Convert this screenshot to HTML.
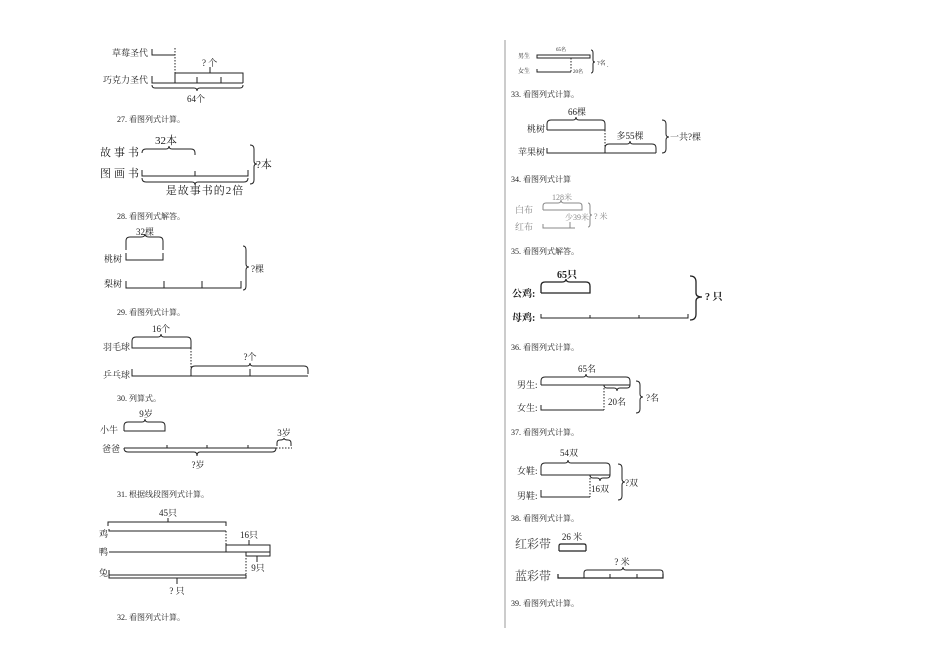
<!DOCTYPE html>
<html><head><meta charset="utf-8"><style>
html,body{margin:0;padding:0;background:#fff;width:950px;height:672px;overflow:hidden}
svg{display:block}
text{font-family:"Liberation Serif","Noto Serif CJK SC","Noto Sans CJK SC",serif;fill:#222}
.s{font-size:8px}
.m{font-size:9px}
.l{font-size:11px}
.g text{fill:#888}
path,line{stroke:#222;fill:none;stroke-width:1}
.d{stroke-dasharray:1.5,1.5}
.g path,.g line{stroke:#888}
</style></head><body>
<svg width="950" height="672" viewBox="0 0 950 672" xmlns="http://www.w3.org/2000/svg">
<line x1="505" y1="40" x2="505" y2="628" style="stroke:#999"/>

<!-- top left -->
<text x="112" y="56" class="m">草莓圣代</text>
<path d="M152 49 V55 H175"/>
<line x1="175" y1="48" x2="175" y2="83" class="d"/>
<text x="202" y="66" class="m">? 个</text>
<line x1="210" y1="67" x2="210" y2="73"/>
<path d="M175 83 V73 H243 V83"/>
<line x1="197" y1="77" x2="197" y2="83"/><line x1="221" y1="77" x2="221" y2="83"/>
<text x="103" y="83" class="m">巧克力圣代</text>
<path d="M152 76 V83 H243"/>
<path d="M152 85 q0 3 3 3 H194 q3 0 3 3 q0 -3 3 -3 H240 q3 0 3 -3"/>
<text x="187" y="102" class="m">64个</text>

<text x="117" y="122" class="s">27. 看图列式计算。</text>
<text x="166" y="144" class="l" text-anchor="middle">32本</text>
<path d="M142 153 q0 -4 4 -4 H166 q3 0 3 -3 q0 3 3 3 H191 q4 0 4 4 V155"/>
<text x="100" y="156" class="l" letter-spacing="3">故事书</text>
<text x="100" y="177" class="l" letter-spacing="3">图画书</text>
<path d="M142 170 V176 H248 V170"/><line x1="195" y1="171" x2="195" y2="176"/>
<path d="M142 178 q0 4 4 4 H192 q3 0 3 3 q0 -3 3 -3 H244 q4 0 4 -4"/>
<text x="205" y="194" class="l" text-anchor="middle" letter-spacing="1">是故事书的2倍</text>
<path d="M250 145 q4 0 4 4 V161 q0 3 3 3 q-3 0 -3 3 V180 q0 4 -4 4"/>
<text x="256" y="168" class="l">?本</text>

<text x="117" y="219" class="s">28. 看图列式解答。</text>
<text x="145" y="235" class="m" text-anchor="middle">32棵</text>
<path d="M126 250 V241 q0 -4 4 -4 H141 q4 0 4 -3 q0 3 4 3 H159 q4 0 4 4 V250"/>
<text x="104" y="262" class="m">桃树</text>
<path d="M126 253 V260 H163 V253"/>
<text x="104" y="287" class="m">梨树</text>
<path d="M126 281 V288 H241 V281"/><line x1="164" y1="281" x2="164" y2="288"/><line x1="202" y1="281" x2="202" y2="288"/>
<path d="M243 246 q3 0 3 4 V264 q0 3 3 3 q-3 0 -3 3 V286 q0 4 -3 4"/>
<text x="251" y="272" class="m">?棵</text>

<text x="117" y="315" class="s">29. 看图列式计算。</text>
<text x="161" y="332" class="m" text-anchor="middle">16个</text>
<path d="M132 347 V341 q0 -4 4 -4 H158 q3 0 3 -3 q0 3 3 3 H187 q4 0 4 4 V348"/>
<text x="103" y="350" class="m">羽毛球</text>
<path d="M132 345 V348 H191"/>
<line x1="191" y1="348" x2="191" y2="376" class="d"/>
<text x="250" y="360" class="m" text-anchor="middle">?个</text>
<path d="M191 376 V370 q0 -4 4 -4 H247 q3 0 3 -3 q0 3 3 3 H304 q4 0 4 4 V374"/>
<text x="103" y="378" class="m">乒乓球</text>
<path d="M132 369 V376 H308"/><line x1="250" y1="369" x2="250" y2="376"/>

<text x="117" y="401" class="s">30. 列算式。</text>
<text x="146" y="417" class="m" text-anchor="middle">9岁</text>
<path d="M124 431 V426 q0 -4 4 -4 H142 q3 0 3 -3 q0 3 3 3 H161 q4 0 4 4 V431 H124"/>
<text x="100" y="433" class="m">小牛</text>
<text x="102" y="452" class="m">爸爸</text>
<line x1="124" y1="448" x2="276" y2="448"/>
<line x1="167" y1="445" x2="167" y2="448"/><line x1="207" y1="445" x2="207" y2="448"/><line x1="248" y1="445" x2="248" y2="448"/>
<line x1="276" y1="448" x2="292" y2="448" class="d"/>
<text x="284" y="436" class="m" text-anchor="middle">3岁</text>
<path d="M277 446 V443 q0 -3 3 -3 q4 0 4 -2 q0 2 4 2 q3 0 3 3 V446"/>
<path d="M124 448 q0 4 4 4 H194 q3 0 3 4 q0 -4 3 -4 H272 q4 0 4 -4"/>
<text x="198" y="468" class="m" text-anchor="middle">?岁</text>

<text x="117" y="497" class="s">31. 根据线段图列式计算。</text>
<text x="168" y="516" class="m" text-anchor="middle">45只</text>
<path d="M108 526 V522 H226 V526"/><line x1="168" y1="522" x2="168" y2="518"/>
<text x="99" y="537" class="m">鸡</text>
<path d="M109 529 V531 H226"/>
<line x1="226" y1="531" x2="226" y2="552" class="d"/>
<text x="249" y="538" class="m" text-anchor="middle">16只</text>
<line x1="249" y1="540" x2="249" y2="545"/>
<path d="M226 552 V545 H270 V552"/>
<text x="99" y="555" class="m">鸭</text>
<line x1="109" y1="552" x2="270" y2="552"/>
<path d="M246 552 V556 H270 V552"/><line x1="257" y1="556" x2="257" y2="562"/>
<text x="258" y="571" class="m" text-anchor="middle">9只</text>
<line x1="246" y1="552" x2="246" y2="575" class="d"/>
<text x="99" y="576" class="m">兔</text>
<path d="M109 570 V575 H246"/>
<path d="M109 575 V578 H246 V575"/><line x1="177" y1="578" x2="177" y2="584"/>
<text x="177" y="594" class="m" text-anchor="middle">? 只</text>

<text x="117" y="620" class="s">32. 看图列式计算。</text>

<!-- right column -->
<text x="518" y="58" style="font-size:6px">男生</text>
<text x="561" y="51" style="font-size:5px" text-anchor="middle">65名</text>
<path d="M537 55 H590 V58 H537 Z"/>
<line x1="571" y1="58" x2="571" y2="72" class="d"/>
<text x="518" y="73" style="font-size:6px">女生</text>
<path d="M537 69 V72 H571"/>
<text x="573" y="73" style="font-size:5px">20名</text>
<path d="M591 50 q2 0 2 3 V60 q0 2 2 2 q-2 0 -2 2 V70 q0 3 -2 3"/>
<text x="597" y="65" style="font-size:6px">?名</text>
<text x="607" y="67" style="font-size:6px">.</text>

<text x="511" y="97" class="s">33. 看图列式计算。</text>
<text x="577" y="115" class="m" text-anchor="middle">66棵</text>
<path d="M547 130 V124 q0 -4 4 -4 H573 q3 0 3 -3 q0 3 3 3 H601 q4 0 4 4 V130 H547"/>
<text x="527" y="132" class="m">桃树</text>
<line x1="605" y1="130" x2="605" y2="153" class="d"/>
<text x="630" y="139" class="m" text-anchor="middle">多55棵</text>
<path d="M605 153 V148 q0 -4 4 -4 H627 q3 0 3 -3 q0 3 3 3 H652 q4 0 4 4 V153"/>
<text x="518" y="155" class="m">苹果树</text>
<path d="M547 148 V153 H656"/>
<path d="M662 120 q4 0 4 4 V134 q0 3 3 3 q-3 0 -3 3 V149 q0 4 -4 4"/>
<text x="670" y="140" class="m">一共?棵</text>

<text x="511" y="182" class="s">34. 看图列式计算</text>
<g class="g">
<text x="562" y="200" class="s" text-anchor="middle">128米</text>
<path d="M543 210 V206 q0 -3 3 -3 H558 q3 0 3 -3 q0 3 3 3 H579 q3 0 3 3 V210 H543"/>
<text x="515" y="213" class="m">白布</text>
<text x="565" y="220" class="s">少39米</text>
<path d="M570 222 V228"/>
<text x="515" y="230" class="m">红布</text>
<path d="M543 224 V228 H575"/>
<path d="M588 203 q2 0 2 3 V213 q0 2 2 2 q-2 0 -2 2 V224 q0 3 -2 3"/>
<text x="594" y="219" class="s">? 米</text>
</g>

<text x="511" y="254" class="s">35. 看图列式解答。</text>
<text x="567" y="278" style="font-size:10px;font-weight:bold" text-anchor="middle">65只</text>
<path d="M541 293 V286 q0 -4 4 -4 H562 q4 0 4 -3 q0 3 4 3 H586 q4 0 4 4 V293 H541" style="stroke-width:1.3"/>
<text x="512" y="297" style="font-size:10px;font-weight:bold">公鸡:</text>
<text x="512" y="321" style="font-size:10px;font-weight:bold">母鸡:</text>
<path d="M541 314 V318 H688 V314"/><line x1="590" y1="315" x2="590" y2="318"/><line x1="639" y1="315" x2="639" y2="318"/>
<path d="M690 276 q6 0 6 6 V293 q0 4 6 4 q-6 0 -6 4 V314 q0 6 -6 6" style="stroke-width:1.3"/>
<text x="705" y="300" style="font-size:10px;font-weight:bold">? 只</text>

<text x="511" y="350" class="s">36. 看图列式计算。</text>
<text x="587" y="372" class="m" text-anchor="middle">65名</text>
<path d="M541 385 V381 q0 -4 4 -4 H583 q3 0 3 -3 q0 3 3 3 H626 q4 0 4 4 V385 H541"/>
<text x="517" y="388" class="m">男生:</text>
<line x1="604" y1="385" x2="604" y2="410" class="d"/>
<path d="M604 385 q0 3 3 3 H614 q3 0 3 3 q0 -3 3 -3 H627 q3 0 3 -3"/>
<text x="617" y="405" class="m" text-anchor="middle">20名</text>
<text x="517" y="411" class="m">女生:</text>
<path d="M541 405 V410 H604"/>
<path d="M636 381 q4 0 4 4 V394 q0 3 3 3 q-3 0 -3 3 V409 q0 4 -4 4"/>
<text x="646" y="401" class="m">?名</text>

<text x="511" y="435" class="s">37. 看图列式计算。</text>
<text x="569" y="456" class="m" text-anchor="middle">54双</text>
<path d="M541 475 V467 q0 -4 4 -4 H565 q3 0 3 -3 q0 3 3 3 H606 q4 0 4 4 V475 H541"/>
<text x="517" y="474" class="m">女鞋:</text>
<line x1="590" y1="475" x2="590" y2="497" class="d"/>
<path d="M590 475 q0 3 3 3 H597 q3 0 3 3 q0 -3 3 -3 H607 q3 0 3 -3"/>
<text x="600" y="492" class="m" text-anchor="middle">16双</text>
<text x="517" y="499" class="m">男鞋:</text>
<path d="M541 490 V497 H590"/>
<path d="M618 464 q4 0 4 4 V479 q0 3 3 3 q-3 0 -3 3 V496 q0 4 -4 4"/>
<text x="625" y="486" class="m">?双</text>

<text x="511" y="521" class="s">38. 看图列式计算。</text>
<text x="515" y="548" style="font-size:12px;fill:#444">红彩带</text>
<text x="572" y="540" class="m" text-anchor="middle">26 米</text>
<path d="M559 551 V546 q0 -2 2 -2 H584 q2 0 2 2 V551 M559 551 H586" style="stroke-width:1.2"/>
<text x="515" y="580" style="font-size:12px;fill:#444">蓝彩带</text>
<path d="M558 574 V578 H663 V574" style="stroke-width:1.2"/>
<line x1="610" y1="574" x2="610" y2="578"/><line x1="637" y1="574" x2="637" y2="578"/>
<path d="M584 578 V573 q0 -3 3 -3 H620 q3 0 3 -3 q0 3 3 3 H660 q3 0 3 3 V578"/>
<text x="622" y="565" class="m" text-anchor="middle">? 米</text>

<text x="511" y="606" class="s">39. 看图列式计算。</text>
</svg>
</body></html>
